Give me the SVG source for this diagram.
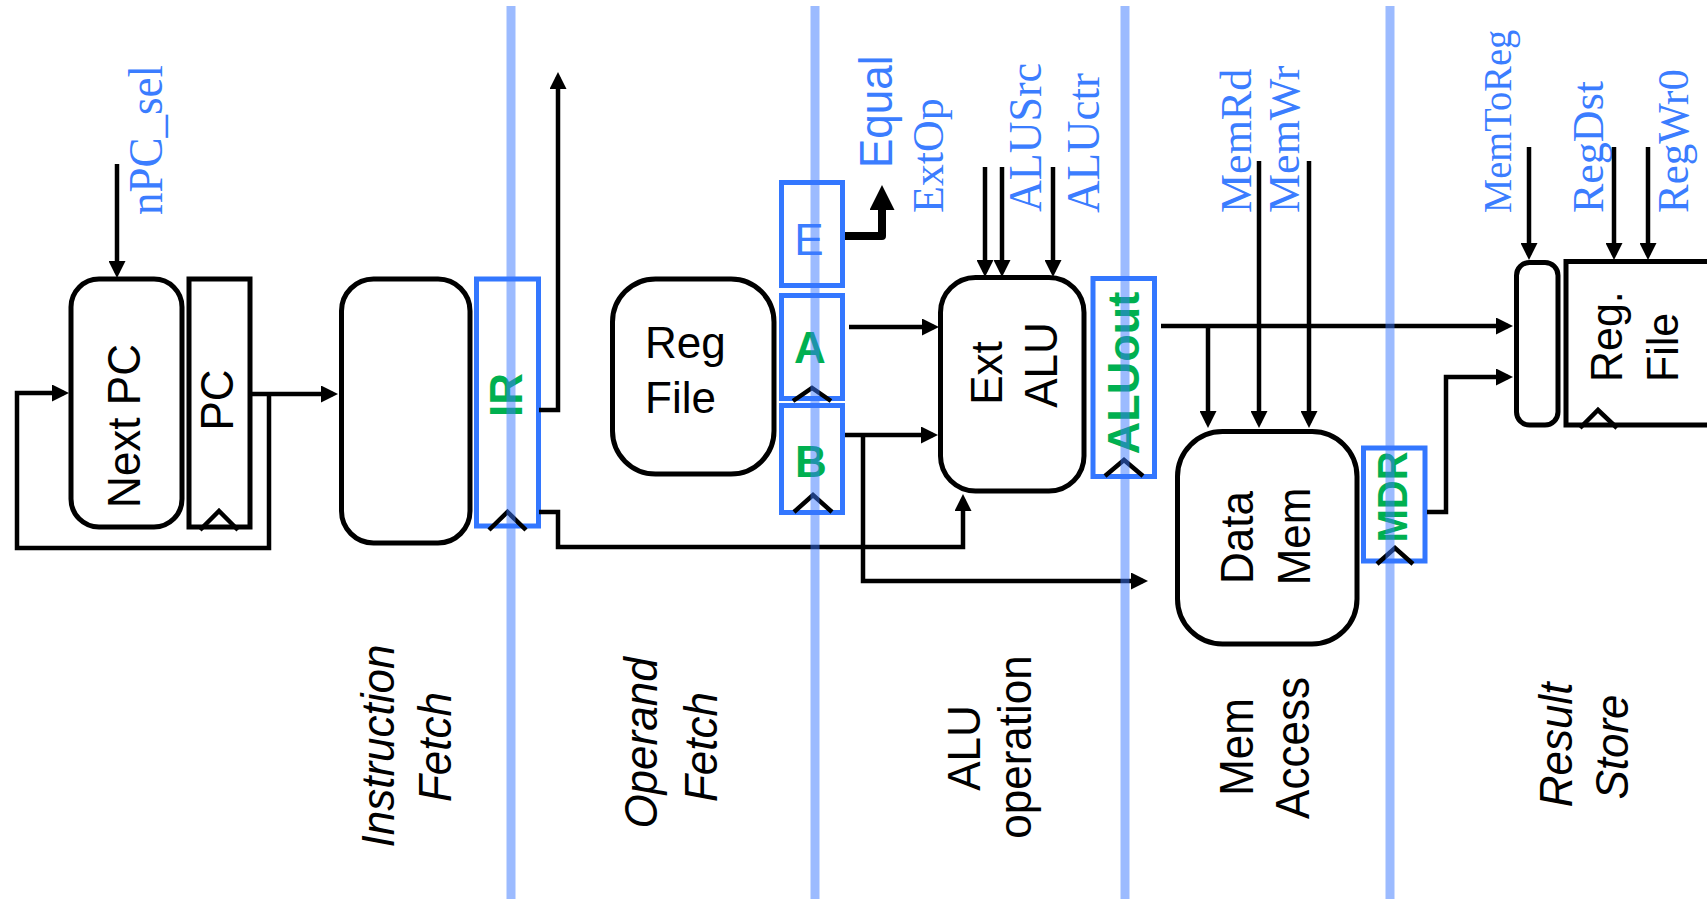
<svg xmlns="http://www.w3.org/2000/svg" width="1707" height="899" viewBox="0 0 1707 899">
<style>
.box{fill:#fff;stroke:#000;stroke-width:5}
.reg{fill:#fff;stroke:#3377FF;stroke-width:5}
.wire{fill:none;stroke:#000;stroke-width:4.5;stroke-linejoin:miter}
.clk{fill:none;stroke:#000;stroke-width:4.5}
.lbl{font-family:"Liberation Sans",Arial,sans-serif;font-size:44px;fill:#000}
.grn{font-family:"Liberation Sans",Arial,sans-serif;font-size:44px;font-weight:bold;fill:#00B050}
.blu{font-family:"Liberation Sans",Arial,sans-serif;font-size:44px;fill:#3B7DFF}
.ctl{font-family:"Liberation Serif","Times New Roman",serif;font-size:44px;fill:#3B7DFF}
.it{font-style:italic}
.pipe{stroke:#3A78FF;stroke-opacity:0.5;stroke-width:9}
</style>
<defs>
<marker id="ah" markerUnits="userSpaceOnUse" markerWidth="17" markerHeight="17" refX="12" refY="8.5" orient="auto">
<path d="M0,0 L17,8.5 L0,17 z" fill="#000"/>
</marker>
<marker id="ahb" markerUnits="userSpaceOnUse" markerWidth="25" markerHeight="25" refX="17" refY="12.5" orient="auto">
<path d="M0,0 L25,12.5 L0,25 z" fill="#000"/>
</marker>
</defs>
<rect width="1707" height="899" fill="#fff"/>

<g id="nextpc">
<rect class="box" x="71" y="279" width="111" height="248" rx="28"/>
<text class="lbl" transform="translate(140,426) scale(1.06,1) rotate(-90)" text-anchor="middle">Next PC</text>
</g>
<g id="pc">
<rect class="box" x="189" y="279" width="61" height="248"/>
<polyline class="clk" points="200,530 219,511 238,530"/>
<text class="lbl" transform="translate(233,400) scale(1.05,1) rotate(-90)" text-anchor="middle">PC</text>
</g>
<g id="imem">
<rect class="box" x="341.5" y="279" width="128.5" height="264" rx="32"/>
</g>
<g id="ir">
<rect class="reg" x="476.5" y="279" width="62" height="247"/>
<polyline class="clk" points="489,530 507.5,512 526,530"/>
<text class="grn" transform="translate(522,395) scale(1.06,1) rotate(-90)" text-anchor="middle">IR</text>
</g>
<g id="regfile">
<rect class="box" x="612.5" y="279" width="161.5" height="195" rx="43"/>
<text class="lbl" x="645" y="358">Reg</text>
<text class="lbl" x="645" y="413">File</text>
</g>
<g id="regE">
<rect class="reg" x="781.5" y="182.5" width="61" height="103"/>
<text class="blu" x="809" y="255" text-anchor="middle">E</text>
</g>
<g id="regA">
<rect class="reg" x="781.5" y="295.5" width="61" height="103"/>
<polyline class="clk" points="793,401 812,388 831,401"/>
<text class="grn" x="810" y="363" text-anchor="middle">A</text>
</g>
<g id="regB">
<rect class="reg" x="781.5" y="405.5" width="61" height="107"/>
<polyline class="clk" points="794,512 813,495 832,512"/>
<text class="grn" x="811" y="477" text-anchor="middle">B</text>
</g>
<g id="alu">
<rect class="box" x="940.5" y="277.5" width="143.5" height="213.5" rx="35"/>
<text class="lbl" transform="translate(1001.5,373) scale(1.02,1) rotate(-90)" text-anchor="middle">Ext</text>
<text class="lbl" transform="translate(1057,365) scale(1.04,1) rotate(-90)" text-anchor="middle">ALU</text>
</g>
<g id="aluout">
<rect class="reg" x="1093" y="278.5" width="61.5" height="198"/>
<polyline class="clk" points="1105,476 1124,460 1143,476"/>
<text class="grn" transform="translate(1139,373) rotate(-90)" text-anchor="middle" style="font-size:45px">ALUout</text>
</g>
<g id="datamem">
<rect class="box" x="1177.5" y="431.5" width="179.5" height="212.5" rx="45"/>
<text class="lbl" transform="translate(1253,537.5) scale(1.06,1) rotate(-90)" text-anchor="middle">Data</text>
<text class="lbl" transform="translate(1310,536.5) scale(1.06,1) rotate(-90)" text-anchor="middle">Mem</text>
</g>
<g id="mdr">
<rect class="reg" x="1363.5" y="448" width="61.5" height="113"/>
<polyline class="clk" points="1377,564 1395,548 1413,564"/>
<text class="grn" transform="translate(1406.5,497) scale(1.08,1) rotate(-90)" text-anchor="middle" style="font-size:40px">MDR</text>
</g>
<g id="mux">
<rect class="box" x="1516.5" y="262.5" width="41.5" height="162.5" rx="13"/>
</g>
<g id="regfile2">
<rect class="box" x="1566" y="261.5" width="200" height="163.5"/>
<polyline class="clk" points="1580,428 1598,410 1617,428"/>
<text class="lbl" transform="translate(1621.5,382) scale(1.05,1) rotate(-90)" style="font-size:43px">Reg.</text>
<text class="lbl" transform="translate(1678,382) scale(1.05,1) rotate(-90)" style="font-size:43px">File</text>
</g>

<g id="controls">
<text class="ctl" transform="translate(162,215) scale(1.06,1) rotate(-90)" style="font-size:45px">nPC_sel</text>
<text class="blu" transform="translate(891.5,168) scale(1.03,1) rotate(-90)">Equal</text>
<text class="ctl" transform="translate(943,213) scale(1.03,1) rotate(-90)">ExtOp</text>
<text class="ctl" transform="translate(1040.5,212) scale(1.05,1) rotate(-90)">ALUSrc</text>
<text class="ctl" transform="translate(1099,213) scale(1.03,1) rotate(-90)" style="font-size:45px">ALUctr</text>
<text class="ctl" transform="translate(1250.5,213) scale(1.02,1) rotate(-90)">MemRd</text>
<text class="ctl" transform="translate(1299,213) scale(1.02,1) rotate(-90)">MemWr</text>
<text class="ctl" transform="translate(1511,213) scale(1.04,1) rotate(-90)" style="font-size:38.5px">MemToReg</text>
<text class="ctl" transform="translate(1603,213) scale(1.03,1) rotate(-90)">RegDst</text>
<text class="ctl" transform="translate(1688,213) scale(1.04,1) rotate(-90)" style="font-size:43px">RegWr0</text>
</g>

<g id="connectors">
<path class="wire" d="M117,164 V273" marker-end="url(#ah)"/>
<path class="wire" d="M252,394 H333" marker-end="url(#ah)"/>
<path class="wire" d="M269,394 V548 H17 V393 H64" marker-end="url(#ah)"/>
<path class="wire" d="M539,410 H558 V77" marker-end="url(#ah)"/>
<path class="wire" d="M539,512 H558 V547 H963 V499" marker-end="url(#ah)"/>
<path class="wire" d="M849,327 H934" marker-end="url(#ah)"/>
<path class="wire" d="M845,435 H933" marker-end="url(#ah)"/>
<path class="wire" d="M863,435 V581 H1143" marker-end="url(#ah)"/>
<path class="wire" d="M845,236 H882 V193" style="stroke-width:8;stroke-linejoin:round" marker-end="url(#ahb)"/>
<path class="wire" d="M985,167 V272" marker-end="url(#ah)"/>
<path class="wire" d="M1002,167 V272" marker-end="url(#ah)"/>
<path class="wire" d="M1053,167 V272" marker-end="url(#ah)"/>
<path class="wire" d="M1161,326 H1508" marker-end="url(#ah)"/>
<path class="wire" d="M1208,326 V423" marker-end="url(#ah)"/>
<path class="wire" d="M1259,161 V423" marker-end="url(#ah)"/>
<path class="wire" d="M1309,161 V423" marker-end="url(#ah)"/>
<path class="wire" d="M1427,512 H1446 V377 H1508" marker-end="url(#ah)"/>
<path class="wire" d="M1529,147 V255" marker-end="url(#ah)"/>
<path class="wire" d="M1614,147 V255" marker-end="url(#ah)"/>
<path class="wire" d="M1648,147 V255" marker-end="url(#ah)"/>
</g>

<g id="stages">
<text class="lbl it" transform="translate(394,746) scale(1.06,1) rotate(-90)" text-anchor="middle">Instruction</text>
<text class="lbl it" transform="translate(450.5,747) scale(1.06,1) rotate(-90)" text-anchor="middle">Fetch</text>
<text class="lbl it" transform="translate(657,743) scale(1.06,1) rotate(-90)" text-anchor="middle">Operand</text>
<text class="lbl it" transform="translate(717,747) scale(1.06,1) rotate(-90)" text-anchor="middle">Fetch</text>
<text class="lbl" transform="translate(980,748) scale(1.06,1) rotate(-90)" text-anchor="middle">ALU</text>
<text class="lbl" transform="translate(1031,747) scale(1.06,1) rotate(-90)" text-anchor="middle">operation</text>
<text class="lbl" transform="translate(1253,747) scale(1.08,1) rotate(-90)" text-anchor="middle">Mem</text>
<text class="lbl" transform="translate(1309,748) scale(1.08,1) rotate(-90)" text-anchor="middle">Access</text>
<text class="lbl it" transform="translate(1572,745) scale(1.06,1) rotate(-90)" text-anchor="middle">Result</text>
<text class="lbl it" transform="translate(1628,747) scale(1.06,1) rotate(-90)" text-anchor="middle">Store</text>
</g>

<g id="pipeline-lines">
<line class="pipe" x1="511" y1="6" x2="511" y2="899"/>
<line class="pipe" x1="815" y1="6" x2="815" y2="899"/>
<line class="pipe" x1="1125" y1="6" x2="1125" y2="899"/>
<line class="pipe" x1="1390" y1="6" x2="1390" y2="899"/>
</g>
</svg>
